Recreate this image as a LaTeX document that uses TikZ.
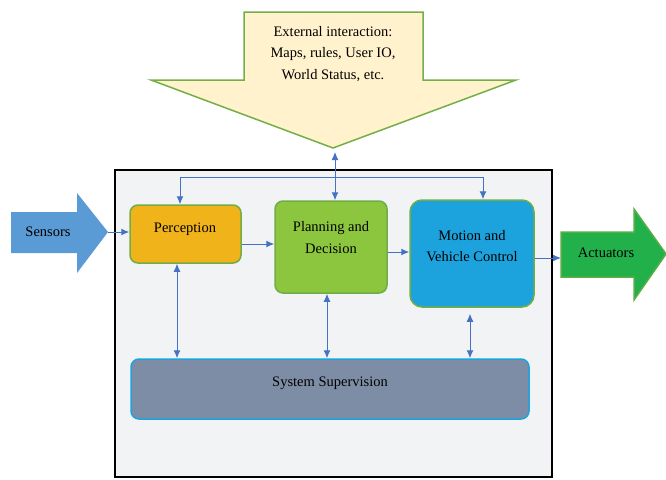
\documentclass[tikz,border=0pt]{standalone}
\usepackage{fontspec}
\setmainfont{Liberation Serif}
\newfontfamily\labelfont{Liberation Serif}
\usepackage{tikz}
\usetikzlibrary{arrows.meta,positioning,calc}
\usepackage{xcolor}
\definecolor{paper}  {HTML}{F2F3F4}
\definecolor{cream}  {HTML}{FFF2CC}
\definecolor{leaf}   {HTML}{70AD47}
\definecolor{sky}    {HTML}{5B9BD5}
\definecolor{amber}  {HTML}{F0B31A}
\definecolor{lime}   {HTML}{8CC63F}
\definecolor{ocean}  {HTML}{1CA3DE}
\definecolor{slate}  {HTML}{7E8DA6}
\definecolor{grass}  {HTML}{22B04B}
\definecolor{wire}   {HTML}{4472C4}

\tikzset{
  block/.style={draw=leaf, line width=1.5pt, rounded corners=8pt, inner sep=0pt},
  lbl/.style={font=\labelfont\fontsize{14.5}{21.5}\selectfont, align=center, inner sep=0pt},
  link/.style={draw=wire, line width=1pt, -{Latex[length=8pt,width=7pt]}},
  twolink/.style={draw=wire, line width=1pt,
    {Latex[length=8pt,width=7pt]}-{Latex[length=8pt,width=7pt]}}
}

\begin{document}
\begin{tikzpicture}[x=1pt, y=-1pt]
  \useasboundingbox (0,0) rectangle (666,479);

  % system frame
  \draw[line width=2pt, fill=paper] (115,170) rectangle (552,477);

  % external interaction
  \draw[draw=leaf!90!lime, line width=1.5pt, fill=cream]
    (244,12) -- (423,12) -- (423,80) -- (516,80) -- (333,148)
    -- (151,80) -- (244,80) -- cycle;
  \coordinate (extip) at (333,148);
  \node[lbl] (extern) at (333,54) {External interaction:\\Maps, rules, User IO,\\World Status, etc.};

  % sensors / actuators
  \fill[sky] (11,212) -- (77,212) -- (77,193) -- (108,232) -- (77,273)
    -- (77,253) -- (11,253) -- cycle;
  \coordinate (sentip) at (108,232);
  \node[lbl] (sensors) at (48,232) {Sensors};

  \draw[draw=leaf!70!grass, line width=1.5pt, fill=grass]
    (561,232) -- (634,232) -- (634,209) -- (666,254) -- (634,300)
    -- (634,277) -- (561,277) -- cycle;
  \coordinate (actback) at (561,258);
  \node[lbl] (actuat) at (606,253) {Actuators};

  % blocks
  \node[block, fill=amber, minimum width=111pt, minimum height=58pt] (percep) at (185.5,234) {};
  \node[lbl] (perceptxt) at (185,229) {Perception};

  \node[block, fill=lime, minimum width=112pt, minimum height=92pt] (plan) at (331,247) {};
  \node[lbl] (plantxt) at (331,237.5) {Planning and\\Decision};

  \node[block, fill=ocean, rounded corners=12pt, minimum width=124pt, minimum height=107pt] (motion) at (472,253.5) {};
  \node[lbl] (motiontxt) at (472,246) {Motion and\\Vehicle Control};

  \node[block, draw=ocean, fill=slate, minimum width=398pt, minimum height=60pt] (supervis) at (330,389) {};
  \node[lbl] (supervistxt) at (330,383) {System Supervision};

  % flow
  \draw[link] (sentip) -- (sentip -| percep.west);
  \draw[link] ([yshift=-10pt]percep.east) -- ([yshift=3pt]plan.west);
  \draw[link] ([yshift=-5pt]plan.east) -- ([yshift=1.5pt]motion.west);
  \draw[link] ([yshift=-4.5pt]motion.east) -- (actback);

  % external link and bus
  \draw[twolink] ([shift={(2,4)}]extip) -- ([xshift=4pt]plan.north);
  \coordinate (busL) at (180,177);
  \coordinate (busR) at (483,177);
  \draw[draw=wire, line width=1pt] (busL) -- (busR);
  \draw[link] (busL) -- (busL |- percep.north);
  \draw[link] (busR) -- (busR |- motion.north);

  % supervision links
  \coordinate (ps) at ([xshift=-8.5pt]percep.south);
  \coordinate (pl) at ([xshift=-4pt]plan.south);
  \coordinate (ms) at ([shift={(-2,6)}]motion.south);
  \draw[twolink] (ps) -- (ps |- supervis.north);
  \draw[twolink] (pl) -- (pl |- supervis.north);
  \draw[twolink] (ms) -- (ms |- supervis.north);
\end{tikzpicture}
\end{document}
